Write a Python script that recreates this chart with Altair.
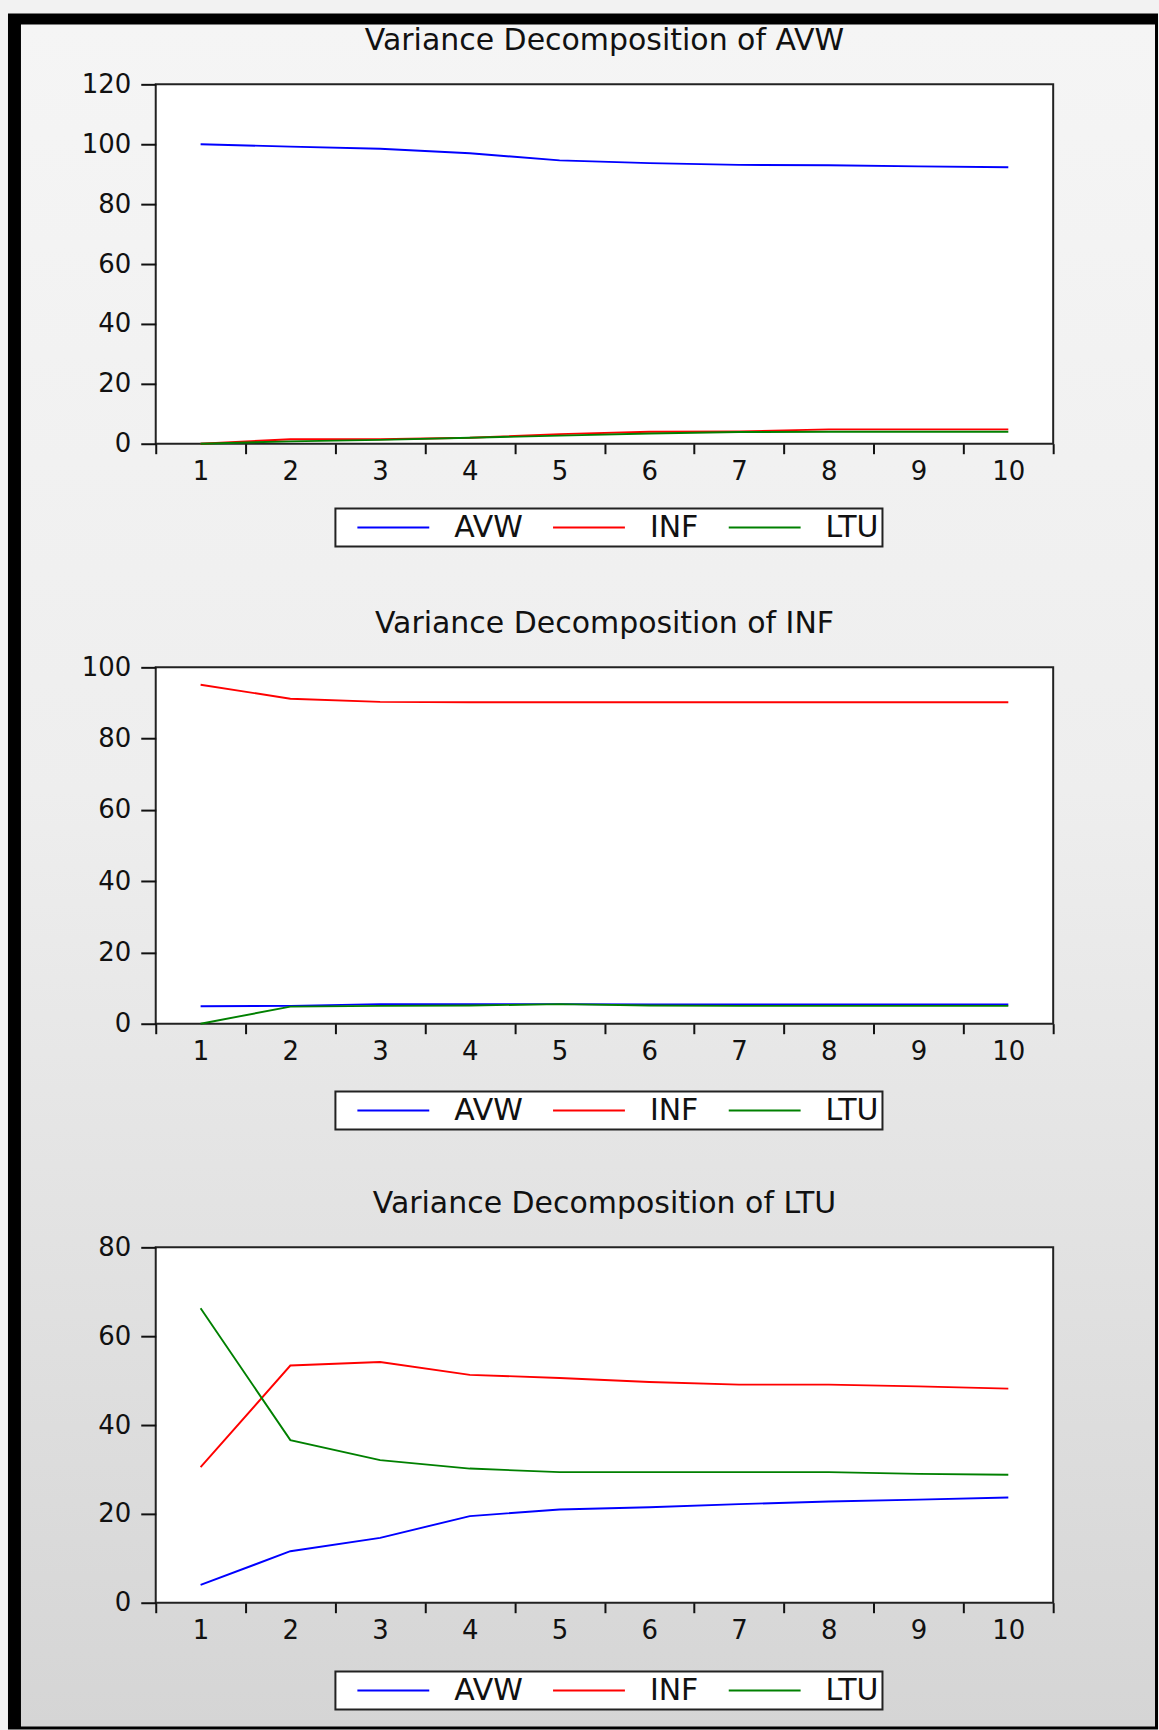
import altair as alt
import pandas as pd

# ---------------- data ----------------
periods = list(range(1, 11))
series_names = ["AVW", "INF", "LTU"]
series_colors = ["#0000ff", "#ff0000", "#008000"]

panel_titles = [
    "Variance Decomposition of AVW",
    "Variance Decomposition of INF",
    "Variance Decomposition of LTU",
]
panel_ymax = [120, 100, 80]
panel_yticks = [
    [0, 20, 40, 60, 80, 100, 120],
    [0, 20, 40, 60, 80, 100],
    [0, 20, 40, 60, 80],
]

# Variance decomposition of AVW
avw_avw = [100.0, 99.2, 98.5, 97.0, 94.6, 93.7, 93.1, 93.0, 92.6, 92.3]
avw_inf = [0.0, 1.5, 1.5, 2.0, 3.2, 4.0, 4.1, 4.8, 4.8, 4.8]
avw_ltu = [0.0, 0.8, 1.3, 2.0, 2.7, 3.4, 3.9, 4.0, 4.0, 4.0]

# Variance decomposition of INF
inf_avw = [4.9, 5.0, 5.5, 5.5, 5.5, 5.4, 5.4, 5.4, 5.4, 5.4]
inf_inf = [95.1, 91.2, 90.3, 90.2, 90.2, 90.2, 90.2, 90.2, 90.2, 90.2]
inf_ltu = [0.0, 4.8, 5.0, 5.1, 5.5, 5.1, 5.0, 5.0, 5.0, 5.0]

# Variance decomposition of LTU
ltu_avw = [4.0, 11.6, 14.6, 19.5, 21.0, 21.5, 22.2, 22.8, 23.2, 23.7]
ltu_inf = [30.5, 53.4, 54.2, 51.3, 50.6, 49.7, 49.1, 49.1, 48.7, 48.2]
ltu_ltu = [66.3, 36.6, 32.1, 30.2, 29.4, 29.4, 29.4, 29.4, 29.0, 28.8]

panel_values = [
    [avw_avw, avw_inf, avw_ltu],
    [inf_avw, inf_inf, inf_ltu],
    [ltu_avw, ltu_inf, ltu_ltu],
]

# ---------------- styling ----------------
FONT = "DejaVu Sans"
TEXT = "#111111"
PLOT_W = 899
PLOT_H = [360, 357, 356]
SPACING = 224
BG_H = 1
PLOT_TOP = 82
PLOT_LEFT = 155


def long_frame(values):
    rows = []
    for name, vals in zip(series_names, values):
        for p, v in zip(periods, vals):
            rows.append({"period": p, "series": name, "value": v})
    return pd.DataFrame(rows)


def make_panel(i):
    df = long_frame(panel_values[i])
    return (
        alt.Chart(df)
        .mark_line(strokeWidth=1.9)
        .encode(
            x=alt.X(
                "period:O",
                bandPosition=0.5,
                scale=alt.Scale(type="band", paddingInner=0, paddingOuter=0),
                axis=alt.Axis(
                    title=None, labelAngle=0, tickBand="extent", domain=False,
                    tickSize=10, tickWidth=2, tickColor=TEXT, labelPadding=5,
                    labelFont=FONT, labelFontSize=26, labelColor=TEXT,
                    grid=False, zindex=1,
                ),
            ),
            y=alt.Y(
                "value:Q",
                scale=alt.Scale(domain=[0, panel_ymax[i]], nice=False, zero=True),
                axis=alt.Axis(
                    title=None, values=panel_yticks[i], domain=False,
                    tickSize=15, tickWidth=2, tickColor=TEXT, labelPadding=10,
                    labelFont=FONT, labelFontSize=26, labelColor=TEXT,
                    grid=False, zindex=1,
                ),
            ),
            color=alt.Color(
                "series:N",
                scale=alt.Scale(domain=series_names, range=series_colors),
                legend=alt.Legend(
                    title=None, orient="none", legendX=180, legendY=425,
                    direction="horizontal",
                    symbolType="M-1,0H11", symbolSize=144, symbolOffset=9,
                    symbolStrokeWidth=2, labelFont=FONT, labelFontSize=30,
                    labelColor=TEXT, labelOffset=76, columnPadding=12, padding=4,
                    fillColor="white", strokeColor="#222222", zindex=1,
                ),
            ),
        )
        .properties(
            width=PLOT_W,
            height=PLOT_H[i],
            title=alt.TitleParams(
                text=panel_titles[i], anchor="middle", frame="group", offset=-9,
                font=FONT, fontSize=30, fontWeight="normal", color=TEXT,
                baseline="alphabetic",
            ),
        )
    )


# ---------------- decorative background (frame + gradient) ----------------
bg_data = pd.DataFrame({"k": [0]})
OX = -PLOT_LEFT
OY = 0


def deco_rect(x0, y0, x1, y1, **mark):
    return alt.Chart(bg_data).mark_rect(**mark).encode(
        x=alt.value(x0 + OX), x2=alt.value(x1 + OX),
        y=alt.value(y0 + OY), y2=alt.value(y1 + OY),
    )


gradient = alt.LinearGradient(
    gradient="linear",
    stops=[
        alt.GradientStop(color="#f5f5f5", offset=0),
        alt.GradientStop(color="#eeeeee", offset=0.45),
        alt.GradientStop(color="#d5d5d5", offset=1),
    ],
    x1=0, x2=0, y1=0, y2=1,
)

background = alt.layer(
    deco_rect(0, 0, 1159, 1730, fill="#f2f2f2"),
    deco_rect(7, 11, 1159, 1730, fill="#000000"),
    deco_rect(20, 22, 1156, 1727, fill=gradient),
).properties(
    width=PLOT_W, height=BG_H,
    view=alt.ViewBackground(fill="transparent", stroke="transparent"),
)

panels = (
    alt.vconcat(
        make_panel(0), make_panel(1), make_panel(2),
        spacing=SPACING, bounds="flush",
    )
    .resolve_scale(x="independent", y="independent", color="independent")
    .resolve_legend(color="independent")
)

chart = (
    alt.vconcat(
        background, panels,
        spacing=PLOT_TOP - BG_H, bounds="flush", padding=0, background="#f2f2f2",
    )
    .configure_view(fill="white", stroke="#222222", strokeWidth=2)
    .configure_legend(strokeWidth=2)
)

chart.save("out.html", embed_options={"renderer": "svg", "actions": False})
